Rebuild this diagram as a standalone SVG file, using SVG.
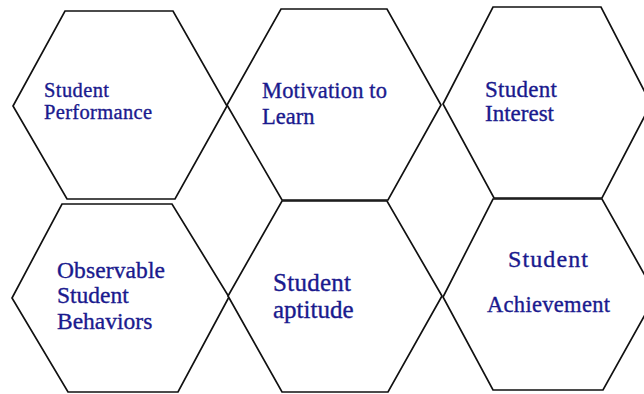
<svg xmlns="http://www.w3.org/2000/svg" width="644" height="394" viewBox="0 0 644 394">
  <style>
    .hex { fill: #ffffff; stroke: #111111; stroke-width: 1.7; stroke-linejoin: miter; }
    .lbl { font-family: "Liberation Serif", "Times New Roman", serif; fill: #1a1a8e; stroke: #1a1a8e; stroke-width: 0.35; }
  </style>
  <rect width="644" height="394" fill="#ffffff"/>

  <!-- top row -->
  <g id="student-performance">
    <polygon class="hex" points="65,11 173,11 227,106 175,199 67,199 13,106"/>
    <text class="lbl" font-size="20.5">
      <tspan x="44" y="97" textLength="65">Student</tspan>
      <tspan x="44" y="119" textLength="108">Performance</tspan>
    </text>
  </g>
  <g id="motivation-to-learn">
    <polygon class="hex" points="281,9 387,9 441,105 388,200 282,200 227,105"/>
    <text class="lbl" font-size="22.5">
      <tspan x="262" y="98" textLength="125">Motivation to</tspan>
      <tspan x="262" y="124">Learn</tspan>
    </text>
  </g>
  <g id="student-interest">
    <polygon class="hex" points="493,7 601,7 651,104 602,198 494,198 443,104"/>
    <text class="lbl" font-size="23">
      <tspan x="485" y="97" textLength="72">Student</tspan>
      <tspan x="485" y="121">Interest</tspan>
    </text>
  </g>

  <!-- bottom row -->
  <g id="observable-student-behaviors">
    <polygon class="hex" points="62,204 172,204 229,297 178,392 68,392 12,298"/>
    <text class="lbl" font-size="23.5">
      <tspan x="57" y="278" textLength="108">Observable</tspan>
      <tspan x="57" y="303">Student</tspan>
      <tspan x="57" y="329">Behaviors</tspan>
    </text>
  </g>
  <g id="student-aptitude">
    <polygon class="hex" points="282,201 387,201 442,296 388,392 282,392 228,296"/>
    <text class="lbl" font-size="25">
      <tspan x="273" y="291" textLength="78">Student</tspan>
      <tspan x="273" y="318">aptitude</tspan>
    </text>
  </g>
  <g id="student-achievement">
    <polygon class="hex" points="493,199 602,199 656,295 603,390 493,390 443,297"/>
    <text class="lbl" font-size="24">
      <tspan x="508" y="267" textLength="80">Student</tspan>
    </text>
    <text class="lbl" font-size="22.5">
      <tspan x="487" y="312" textLength="123">Achievement</tspan>
    </text>
  </g>

  <!-- no connectors: the hexagons simply touch at their shared vertices -->
  <g id="connectors"/>
</svg>
